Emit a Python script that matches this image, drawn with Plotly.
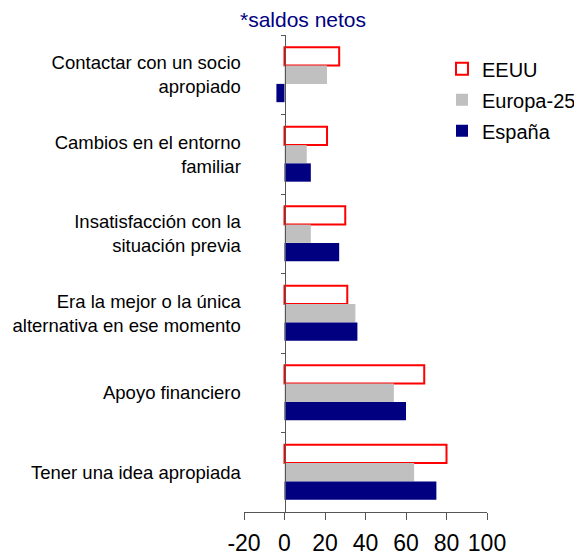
import plotly.graph_objs as go

categories = [
    "Contactar con un socio<br>apropiado",
    "Cambios en el entorno<br>familiar",
    "Insatisfacción con la<br>situación previa",
    "Era la mejor o la única<br>alternativa en ese momento",
    "Apoyo financiero",
    "Tener una idea apropiada",
]
eeuu = [27, 21, 30, 31, 69, 80]
europa_25 = [21, 11, 13, 35, 54, 64]
espana = [-4, 13, 27, 36, 60, 75]

x_ticks = [-20, 0, 20, 40, 60, 80, 100]
x_tick_labels = ["-20", "0", "20", "40", "60", "80", "100"]

font_family = "Liberation Sans, Arial, sans-serif"

# the page body adds an 8px margin, so the figure is 8px smaller each way
W, H = 574, 547

fig = go.Figure()
fig.add_trace(go.Bar(
    y=categories, x=eeuu, name="EEUU", orientation="h", legendgroup="a",
    marker=dict(color="white", line=dict(color="#ff0000", width=2)),
))
fig.add_trace(go.Bar(
    y=categories, x=europa_25, name="Europa-25", orientation="h", legendgroup="b",
    marker=dict(color="#c0c0c0", line=dict(width=0)),
))
fig.add_trace(go.Bar(
    y=categories, x=espana, name="España", orientation="h", legendgroup="c",
    marker=dict(color="#000080", line=dict(width=0)),
))

fig.update_layout(
    width=W, height=H,
    margin=dict(l=236, r=95, t=27, b=43, autoexpand=False),
    plot_bgcolor="white", paper_bgcolor="white",
    barmode="group", bargap=0.31, bargroupgap=0,
    font=dict(family=font_family, color="black"),
    title=dict(
        text="*saldos netos", x=295 / W, xanchor="center", xref="container",
        y=1 - 12 / H, yanchor="middle", yref="container",
        font=dict(size=21, color="#000080", family=font_family),
    ),
    legend=dict(
        x=(442 - 244) / 243, xanchor="left", y=0.970, yanchor="top",
        font=dict(size=20), bgcolor="rgba(0,0,0,0)", tracegroupgap=2,
    ),
)

fig.update_xaxes(
    range=[-20, 100], tickvals=x_ticks, ticktext=x_tick_labels,
    showgrid=False, zeroline=False,
    showline=True, linecolor="#555555", linewidth=1,
    ticks="outside", ticklen=7, tickcolor="#555555",
    ticklabelstandoff=3, tickfont=dict(size=23), fixedrange=True,
)
fig.update_yaxes(
    autorange="reversed", anchor="free", position=20 / 120,
    showgrid=False, zeroline=False,
    showline=True, linecolor="#555555", linewidth=1,
    ticks="outside", tickson="boundaries", ticklen=4, tickcolor="#555555",
    ticklabelstandoff=40, tickfont=dict(size=18.5), automargin=False,
)

fig.write_html("out.html")
